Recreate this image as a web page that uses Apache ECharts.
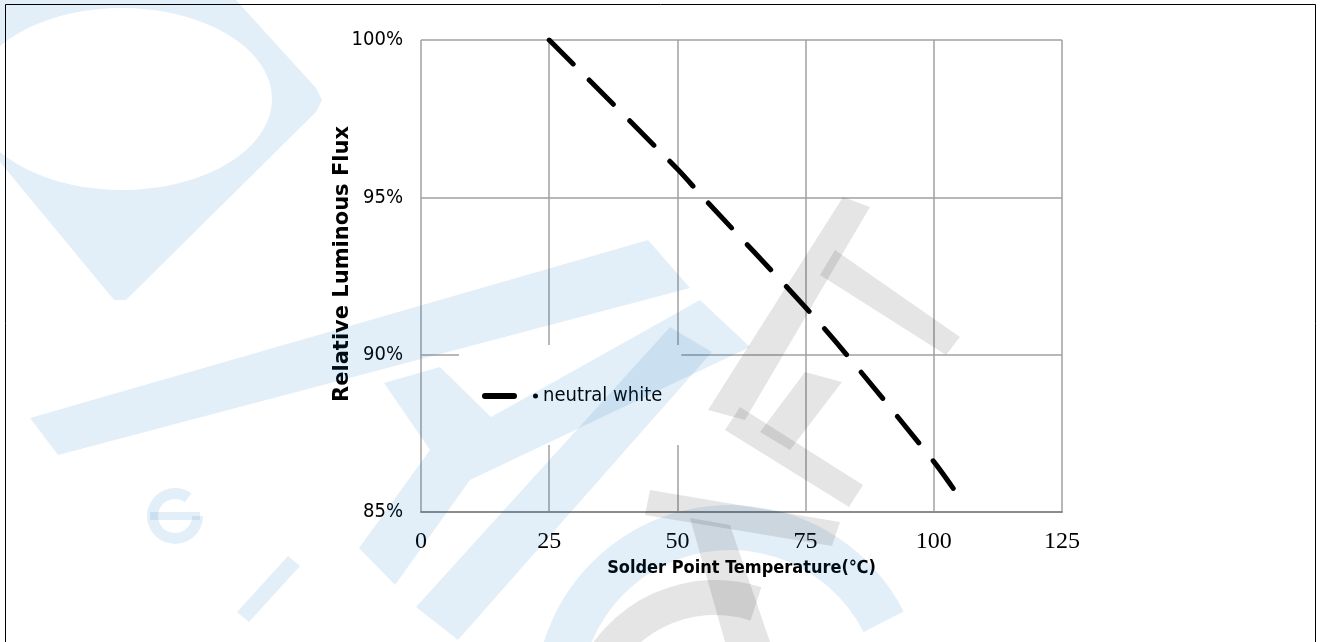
<!DOCTYPE html>
<html><head><meta charset="utf-8">
<script src="https://cdn.jsdelivr.net/npm/echarts@6/dist/echarts.min.js"></script>
<style>html,body{margin:0;padding:0;background:#fff}#c{width:1320px;height:642px}</style>
</head><body><div id="c"></div>
<script>
// ---- data ----
const temperatures = [25, 50, 55, 75, 83, 100, 104];
const fluxPercent  = [100, 95.9, 95, 91.5, 90, 86.6, 85.7];
const xTicks = [0, 25, 50, 75, 100, 125];
const yTicks = [85, 90, 95, 100];
const seriesName = 'neutral white';
const xTitle = 'Solder Point Temperature(℃)';
const yTitle = 'Relative Luminous Flux';

const chart = echarts.init(document.getElementById('c'), null, {renderer: 'canvas'});
const BLUE = 'rgba(0,110,190,0.11)';
const GREY = 'rgba(0,0,0,0.10)';
const NARROW = 'DejaVu Sans Condensed, Liberation Sans Narrow, sans-serif';

function ringPoly(outer, cx, cy, rx, ry) {
  const pts = outer.slice();
  pts.push(outer[0]);
  const n = 72;
  for (let i = 0; i <= n; i++) {
    const t = Math.PI - (i / n) * 2 * Math.PI;
    pts.push([cx + rx * Math.cos(t), cy + ry * Math.sin(t)]);
  }
  pts.push(outer[0]);
  return pts;
}
function poly(points, fill) {
  return { type: 'polygon', z: 100, silent: true, shape: { points: points }, style: { fill: fill } };
}
function ringArc(cx, cy, r, r0, a0, a1, fill) {
  return { type: 'sector', z: 100, silent: true,
    shape: { cx: cx, cy: cy, r: r, r0: r0, startAngle: a0, endAngle: a1 }, style: { fill: fill } };
}

const watermark = [
  poly(ringPoly([[0,0],[236,0],[316,88],[322,100],[316,112],[126,300],[114,300],[0,162]], 122, 99, 150, 91), BLUE),
  poly([[30,418],[58,455],[690,288],[648,240]], BLUE),
  poly([[384,383],[440,367],[491,417],[700,300],[750,347],[470,480],[395,585],[359,548],[430,450]], BLUE),
  poly([[416,607],[670,327],[712,352],[458,640]], BLUE),
  ringArc(175, 516, 28, 17, 0, Math.PI * 1.7, BLUE),
  poly([[150,512],[200,512],[200,520],[150,520]], BLUE),
  poly([[237,612],[288,556],[300,566],[249,622]], BLUE),
  ringArc(730, 700, 195, 150, Math.PI * 1.02, Math.PI * 1.85, BLUE),
  poly([[843,197],[870,207],[745,420],[708,410]], GREY),
  poly([[835,250],[960,337],[946,355],[820,275]], GREY),
  poly([[805,372],[842,382],[790,450],[760,432]], GREY),
  poly([[740,407],[863,485],[849,507],[725,430]], GREY),
  poly([[650,490],[840,522],[832,546],[645,515]], GREY),
  poly([[690,518],[730,525],[770,642],[725,642]], GREY),
  ringArc(715, 730, 150, 115, Math.PI * 1.05, Math.PI * 1.6, GREY)
];

chart.setOption({
  animation: false,
  backgroundColor: '#fff',
  grid: { left: 421, right: 258, top: 40, bottom: 130 },
  xAxis: {
    type: 'value', min: xTicks[0], max: xTicks[xTicks.length-1], interval: xTicks[1]-xTicks[0],
    name: xTitle, nameLocation: 'middle', nameGap: 44,
    nameTextStyle: { fontFamily: NARROW, fontWeight: 'bold', fontSize: 18, color: '#000' },
    axisLine: { show: true, lineStyle: { color: '#8c8c8c', width: 2 } },
    axisTick: { show: false },
    axisLabel: { margin: 18, fontFamily: 'Liberation Serif, serif', fontSize: 24, color: '#000' },
    splitLine: { show: true, lineStyle: { color: '#a0a0a0', width: 1.5 } }
  },
  yAxis: {
    type: 'value', min: yTicks[0], max: yTicks[yTicks.length-1], interval: yTicks[1]-yTicks[0],
    name: yTitle, nameLocation: 'middle', nameGap: 68, nameRotate: 90, nameMoveOverlap: false,
    nameTextStyle: { fontFamily: 'DejaVu Sans', fontWeight: 'bold', fontSize: 21, color: '#000', padding: [0, 0, 0, 24] },
    axisLine: { show: false },
    axisTick: { show: false },
    axisLabel: { margin: 18, fontFamily: NARROW, fontSize: 20, color: '#000', formatter: '{value}%' },
    splitLine: { show: true, lineStyle: { color: '#a0a0a0', width: 1.5 } }
  },
  legend: {
    show: true, left: 459, top: 345, orient: 'horizontal',
    padding: [40, 19, 38, 23],
    backgroundColor: '#fff',
    itemWidth: 56, itemHeight: 6,
    icon: 'path://M3,0H32A3,3,0,0,1,32,6H3A3,3,0,0,1,3,0ZM53.5,0.5A2.5,2.5,0,1,1,53.5,5.5A2.5,2.5,0,1,1,53.5,0.5Z',
    itemStyle: { color: '#000', borderWidth: 0 },
    textStyle: { fontFamily: NARROW, fontSize: 20, color: '#000', lineHeight: 22 },
    data: [seriesName]
  },
  series: [{
    name: seriesName, type: 'line', smooth: 0.3, showSymbol: false, symbol: 'none',
    data: temperatures.map((t, i) => [t, fluxPercent[i]]),
    itemStyle: { color: '#000' },
    lineStyle: { color: '#000', width: 5, type: [34, 23], cap: 'round' }
  }],
  graphic: watermark.concat([
    { type: 'rect', z: 110, silent: true, shape: { x: 5.5, y: 4.5, width: 1310, height: 660 },
      style: { fill: 'none', stroke: '#000', lineWidth: 1 } }
  ])
});
</script></body></html>
